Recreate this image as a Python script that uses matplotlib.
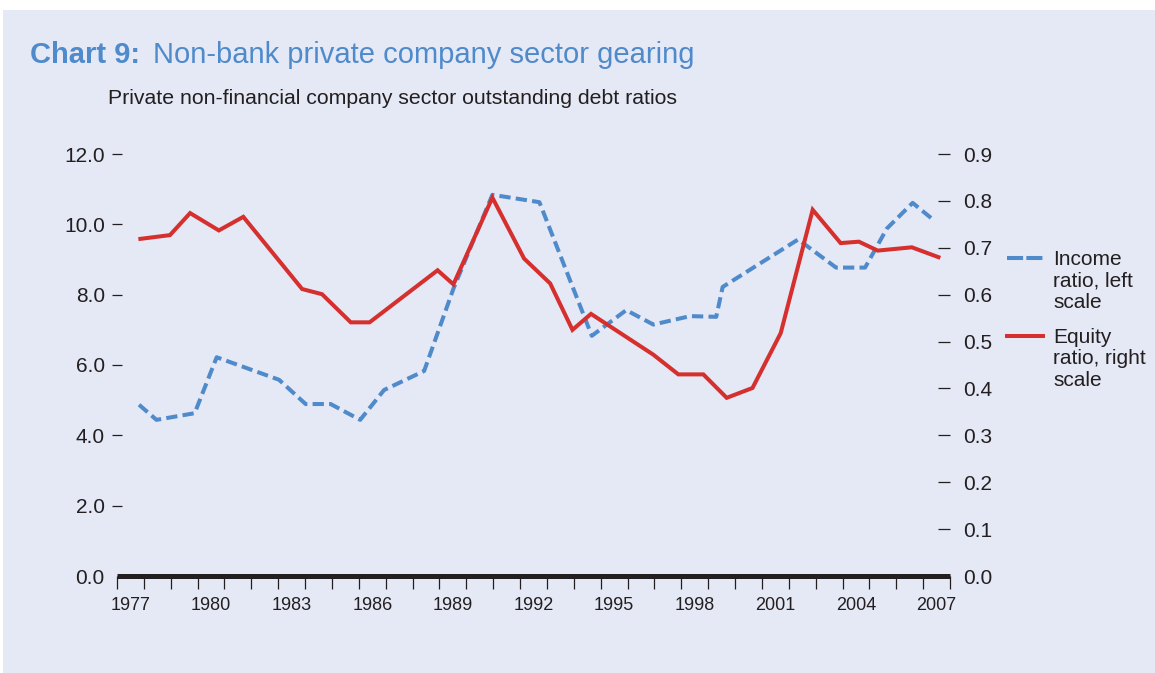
import matplotlib.pyplot as plt
from matplotlib.lines import Line2D
from matplotlib.patches import Rectangle

plt.rcParams['font.family'] = ['Liberation Sans', 'DejaVu Sans']

# data (fractional years)
income_years = [1977.82, 1978.47, 1979.89, 1980.71, 1983.03, 1984.02, 1984.95,
                1986.05, 1986.94, 1988.43, 1989.52, 1990.97, 1992.72, 1994.67,
                1995.95, 1996.96, 1998.33, 1999.30, 1999.54, 2002.35, 2003.76,
                2004.84, 2005.65, 2006.61, 2007.36]
income_ratio = [4.87, 4.44, 4.63, 6.22, 5.58, 4.89, 4.89, 4.44, 5.29, 5.83,
                8.17, 10.84, 10.63, 6.83, 7.56, 7.15, 7.39, 7.37, 8.22, 9.57,
                8.77, 8.77, 9.88, 10.61, 10.14]

equity_years = [1977.87, 1978.97, 1979.72, 1980.79, 1981.70, 1983.89, 1984.63,
                1985.70, 1986.40, 1988.93, 1989.52, 1990.97, 1992.15, 1993.12,
                1993.95, 1994.64, 1996.96, 1997.89, 1998.82, 1999.69, 2000.65,
                2001.70, 2002.89, 2003.93, 2004.61, 2005.31, 2006.58, 2007.57]
equity_ratio = [0.719, 0.727, 0.774, 0.737, 0.766, 0.612, 0.601, 0.541, 0.541,
                0.652, 0.622, 0.807, 0.677, 0.624, 0.525, 0.559, 0.472, 0.430,
                0.430, 0.380, 0.401, 0.518, 0.781, 0.710, 0.713, 0.694, 0.701,
                0.680]

year_labels = [1977, 1980, 1983, 1986, 1989, 1992, 1995, 1998, 2001, 2004, 2007]
left_ticks = [0, 2, 4, 6, 8, 10, 12]
right_ticks = [0.0, 0.1, 0.2, 0.3, 0.4, 0.5, 0.6, 0.7, 0.8, 0.9]

income_label = ['Income', 'ratio, left', 'scale']
equity_label = ['Equity', 'ratio, right', 'scale']

BG = '#E5E8F5'
BLUE = '#4F8ACB'
RED = '#D5302E'
INK = '#231F20'

W, H = 1155, 673
fig = plt.figure(figsize=(W / 100, H / 100), dpi=100)
fig.patch.set_facecolor('white')
fig.add_artist(Rectangle((3 / W, 0), 1 - 3 / W, 1 - 10 / H,
                         transform=fig.transFigure, facecolor=BG,
                         edgecolor='none', zorder=-10))

ax = fig.add_axes([117 / W, 97 / H, (950 - 117) / W, (576 - 154) / H])
ax.set_facecolor('none')
ax2 = ax.twinx()
ax2.set_facecolor('none')

ax.plot(income_years, income_ratio, color=BLUE, linewidth=2.9,
        dashes=(2.8, 1.3), zorder=3)
ax2.plot(equity_years, equity_ratio, color=RED, linewidth=2.9,
         solid_joinstyle='miter', zorder=4)

ax.set_xlim(1977, 2008)
ax.set_ylim(0, 12)
ax2.set_ylim(0, 0.9)

for a in (ax, ax2):
    for s in ('top', 'left', 'right'):
        a.spines[s].set_visible(False)
ax2.spines['bottom'].set_visible(False)
ax.spines['bottom'].set_linewidth(3.6)
ax.spines['bottom'].set_color(INK)
ax.spines['bottom'].set_capstyle('butt')

# year boundaries as ticks, labels centred in the year
ax.set_xticks(range(1977, 2009))
ax.set_xticklabels([])
ax.set_xticks([y + 0.5 for y in year_labels], minor=True)
ax.set_xticklabels([str(y) for y in year_labels], minor=True)
ax.tick_params(axis='x', which='major', direction='out', length=9.4,
               width=0.9, color=INK)
ax.tick_params(axis='x', which='minor', length=0, pad=15, labelsize=13,
               labelcolor=INK)

ax.set_yticks(left_ticks)
ax.set_yticklabels(['%.1f' % v for v in left_ticks])
ax.tick_params(axis='y', direction='inout', length=7.5, width=0.9,
               color=INK, pad=5, labelsize=15, labelcolor=INK)
ax.yaxis.get_major_ticks()[0].tick1line.set_visible(False)

ax2.set_yticks(right_ticks)
ax2.set_yticklabels(['%.1f' % v for v in right_ticks])
ax2.tick_params(axis='y', direction='in', length=8.6, width=0.9,
                color=INK, pad=9.5, labelsize=15, labelcolor=INK)
ax2.yaxis.get_major_ticks()[0].tick2line.set_visible(False)

# title and subtitle
fig.text(30 / W, 1 - 63 / H, 'Chart 9:', fontsize=21, fontweight='bold',
         color=BLUE, va='baseline')
fig.text(153 / W, 1 - 63 / H, 'Non-bank private company sector gearing',
         fontsize=21, color=BLUE, va='baseline')
fig.text(108 / W, 1 - 104 / H,
         'Private non-financial company sector outstanding debt ratios',
         fontsize=15.3, color=INK, va='baseline')

# legend
fig.add_artist(Line2D([1007 / W, 1043 / W], [1 - 258 / H, 1 - 258 / H],
                      transform=fig.transFigure, color=BLUE, linewidth=2.9,
                      dashes=(4.0, 0.8)))
fig.add_artist(Line2D([1007 / W, 1043 / W], [1 - 336 / H, 1 - 336 / H],
                      transform=fig.transFigure, color=RED, linewidth=2.9))
for i, line in enumerate(income_label):
    fig.text(1053 / W, 1 - (265 + 21.3 * i) / H, line, fontsize=15,
             color=INK, va='baseline')
for i, line in enumerate(equity_label):
    fig.text(1053 / W, 1 - (343 + 21.3 * i) / H, line, fontsize=15,
             color=INK, va='baseline')

fig.savefig('out.png', dpi=100, facecolor=fig.get_facecolor())
